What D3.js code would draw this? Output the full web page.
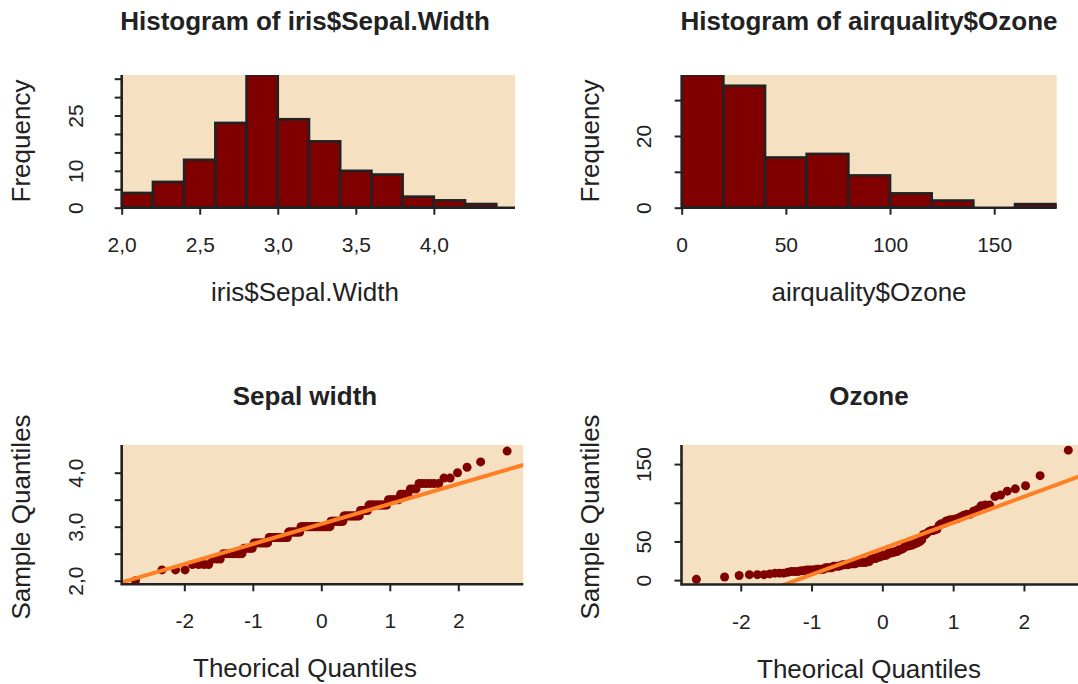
<!DOCTYPE html>
<html>
<head>
<meta charset="utf-8">
<script src="https://cdn.jsdelivr.net/npm/d3@7"></script>
<style>
  body { margin: 0; background: #fff; }
  svg { display: block; }
  text { font-family: "Liberation Sans", Arial, Helvetica, sans-serif; fill: #222; }
</style>
</head>
<body>
<div id="chart"></div>
<script>
// ---------------------------------------------------------------------------
// Data
// ---------------------------------------------------------------------------

// hist(iris$Sepal.Width)
const sepalBreaks = [2.0, 2.2, 2.4, 2.6, 2.8, 3.0, 3.2, 3.4, 3.6, 3.8, 4.0, 4.2, 4.4]
const sepalCounts = [4, 7, 13, 23, 36, 24, 18, 10, 9, 3, 2, 1]

// hist(airquality$Ozone)
const ozoneBreaks = [0, 20, 40, 60, 80, 100, 120, 140, 160, 180]
const ozoneCounts = [37, 34, 14, 15, 9, 4, 2, 0, 1]

// iris$Sepal.Width as distinct value / count
const sepalValues = [2.0, 2.2, 2.3, 2.4, 2.5, 2.6, 2.7, 2.8, 2.9, 3.0, 3.1, 3.2,
                     3.3, 3.4, 3.5, 3.6, 3.7, 3.8, 3.9, 4.0, 4.1, 4.2, 4.4]
const sepalValueCounts = [1, 3, 4, 3, 8, 5, 9, 14, 10, 26, 11, 13,
                          6, 12, 6, 4, 3, 6, 2, 1, 1, 1, 1]

// airquality$Ozone without NA
const ozoneValues = [41, 36, 12, 18, 28, 23, 19, 8, 7, 16, 11, 14, 18, 14, 34, 6, 30, 11, 1, 11,
                     4, 32, 23, 45, 115, 37, 29, 71, 39, 23, 21, 37, 20, 12, 13, 135, 49, 32, 64, 40,
                     77, 97, 97, 85, 10, 27, 7, 48, 35, 61, 79, 63, 16, 80, 108, 20, 52, 82, 50, 64,
                     59, 39, 9, 16, 78, 35, 66, 122, 89, 110, 44, 28, 65, 22, 59, 23, 31, 44, 21, 9,
                     45, 168, 73, 76, 118, 84, 85, 96, 78, 73, 91, 47, 32, 20, 23, 21, 24, 44, 21, 28,
                     9, 13, 46, 18, 13, 24, 16, 13, 23, 36, 7, 14, 30, 14, 18, 20]

// ticks and the labels R kept (the others were dropped for overlap)
const sepalXTicks = [2.0, 2.5, 3.0, 3.5, 4.0]
const sepalYTicks = [0, 5, 10, 15, 20, 25, 30, 35]
const sepalYLabels = [0, 10, 25]
const ozoneXTicks = [0, 50, 100, 150]
const ozoneYTicks = [0, 10, 20, 30]
const ozoneYLabels = [0, 20]
const qqXTicks = [-2, -1, 0, 1, 2]
const sepalQQYTicks = [2.0, 2.5, 3.0, 3.5, 4.0]
const sepalQQYLabels = [2.0, 3.0, 4.0]
const ozoneQQYTicks = [0, 50, 100, 150]
const ozoneQQYLabels = [0, 50, 150]

// ---------------------------------------------------------------------------
// Helpers
// ---------------------------------------------------------------------------
const BEIGE = "#F5E1C2"
const MAROON = "#800000"
const ORANGE = "#FF7F24"
const INK = "#222"

const locale = d3.formatLocale({ decimal: ",", thousands: ".", grouping: [3], currency: ["", ""], minus: "-" })
const fmtComma = locale.format(".1f")
const fmtInt = locale.format("d")

// inverse normal CDF (Acklam)
function qnorm(p) {
    const a = [-3.969683028665376e+01, 2.209460984245205e+02, -2.759285104469687e+02,
               1.383577518672690e+02, -3.066479806614716e+01, 2.506628277459239e+00]
    const b = [-5.447609879822406e+01, 1.615858368580409e+02, -1.556989798598866e+02,
               6.680131188771972e+01, -1.328068155288572e+01]
    const c = [-7.784894002430293e-03, -3.223964580411365e-01, -2.400758277161838e+00,
               -2.549732539343734e+00, 4.374664141464968e+00, 2.938163982698783e+00]
    const d = [7.784695709041462e-03, 3.224671290700398e-01, 2.445134137142996e+00,
               3.754408661907416e+00]
    const pl = 0.02425
    let q, r
    if (p < pl || p > 1 - pl) {
        q = Math.sqrt(-2 * Math.log(p < pl ? p : 1 - p))
        const v = (((((c[0]*q + c[1])*q + c[2])*q + c[3])*q + c[4])*q + c[5]) /
                  ((((d[0]*q + d[1])*q + d[2])*q + d[3])*q + 1)
        return p < pl ? v : -v
    }
    q = p - 0.5
    r = q * q
    return (((((a[0]*r + a[1])*r + a[2])*r + a[3])*r + a[4])*r + a[5]) * q /
           (((((b[0]*r + b[1])*r + b[2])*r + b[3])*r + b[4])*r + 1)
}

// qqnorm points + qqline coefficients
function qqData(values) {
    const sorted = values.slice().sort(d3.ascending)
    const n = sorted.length
    const a = n <= 10 ? 3 / 8 : 0.5
    const pts = sorted.map((v, i) => ({ x: qnorm((i + 1 - a) / (n + 1 - 2 * a)), y: v }))
    const y1 = d3.quantileSorted(sorted, 0.25), y2 = d3.quantileSorted(sorted, 0.75)
    const x1 = qnorm(0.25), x2 = qnorm(0.75)
    const slope = (y2 - y1) / (x2 - x1)
    return { pts, slope, intercept: y1 - slope * x1 }
}

const svg = d3.select("#chart").append("svg")
    .attr("width", 1078)
    .attr("height", 684)

// one panel: background, clip, L frame, ticks, labels
function makePanel(o) {
    const x = d3.scaleLinear().domain(o.xDomain).range([o.left, o.right])
    const y = d3.scaleLinear().domain(o.yDomain).range([o.bottom, o.top])
    const g = svg.append("g")

    svg.append("clipPath").attr("id", "clip-" + o.id)
        .append("rect")
        .attr("x", o.left).attr("y", o.top)
        .attr("width", o.right - o.left).attr("height", o.bottom - o.top)

    g.append("rect")
        .attr("x", o.left).attr("y", o.top)
        .attr("width", o.right - o.left).attr("height", o.bottom - o.top)
        .attr("fill", BEIGE)

    const plot = g.append("g").attr("clip-path", "url(#clip-" + o.id + ")")

    // x axis ticks
    const xAxis = g.append("g")
        .attr("transform", "translate(0," + o.bottom + ")")
        .call(d3.axisBottom(x).tickValues(o.xTicks).tickSize(7).tickFormat(o.xFormat))
    xAxis.select(".domain").remove()
    xAxis.selectAll("line").attr("stroke", INK).attr("stroke-width", 2)
    xAxis.selectAll("text")
        .attr("y", 44).attr("dy", null)
        .style("font-size", "21px")

    // y axis ticks, labels rotated like R (las = 0)
    const yAxis = g.append("g")
        .attr("transform", "translate(" + o.left + ",0)")
        .call(d3.axisLeft(y).tickValues(o.yTicks).tickSize(7)
            .tickFormat(v => o.yLabels.includes(v) ? o.yFormat(v) : ""))
    yAxis.select(".domain").remove()
    yAxis.selectAll("line").attr("stroke", INK).attr("stroke-width", 2)
    yAxis.selectAll("text")
        .attr("x", null).attr("dy", null)
        .attr("text-anchor", "middle")
        .attr("transform", "translate(" + (o.yTickX - o.left) + ",0) rotate(-90)")
        .style("font-size", "21px")

    // titles
    g.append("text")
        .attr("x", o.center).attr("y", o.titleY)
        .attr("text-anchor", "middle")
        .style("font-size", "26px").style("font-weight", "bold")
        .text(o.title)
    g.append("text")
        .attr("x", o.center).attr("y", o.bottom + 93)
        .attr("text-anchor", "middle")
        .style("font-size", "26px")
        .text(o.xLabel)
    g.append("text")
        .attr("transform", "translate(" + o.yLabX + "," + o.yLabY + ") rotate(-90)")
        .attr("text-anchor", "middle")
        .style("font-size", "26px")
        .text(o.yLabel)

    return { g, plot, x, y, frame: () => {
        // L-shaped box (bty = "l")
        g.append("path")
            .attr("d", "M" + o.left + "," + o.top + "V" + o.bottom + "H" + o.right)
            .attr("fill", "none").attr("stroke", INK).attr("stroke-width", 2.6)
    } }
}

function drawHist(p, breaks, counts) {
    const bins = counts.map((c, i) => ({ x0: breaks[i], x1: breaks[i + 1], n: c }))
    p.plot.selectAll(".bar")
        .data(bins)
        .enter()
        .append("rect")
            .attr("class", "bar")
            .attr("x", d => p.x(d.x0))
            .attr("width", d => p.x(d.x1) - p.x(d.x0))
            .attr("y", d => p.y(d.n))
            .attr("height", d => p.y(0) - p.y(d.n))
            .attr("fill", MAROON)
            .attr("stroke", INK)
            .attr("stroke-width", 2.6)
    p.frame()
}

function drawQQ(p, values) {
    const qq = qqData(values)
    const xd = p.x.domain()
    p.plot.selectAll(".pt")
        .data(qq.pts)
        .enter()
        .append("circle")
            .attr("class", "pt")
            .attr("cx", d => p.x(d.x))
            .attr("cy", d => p.y(d.y))
            .attr("r", 4.5)
            .attr("fill", MAROON)
    // qqline, drawn after the points
    p.plot.append("line")
        .attr("x1", p.x(xd[0])).attr("y1", p.y(qq.intercept + qq.slope * xd[0]))
        .attr("x2", p.x(xd[1])).attr("y2", p.y(qq.intercept + qq.slope * xd[1]))
        .attr("stroke", ORANGE).attr("stroke-width", 4)
    p.frame()
}

// ---------------------------------------------------------------------------
// Main
// ---------------------------------------------------------------------------

const p1 = makePanel({
    id: "p1", left: 121.7, right: 515, top: 75, bottom: 207.7, center: 305, titleY: 29.5,
    yTickX: 83, yLabX: 30, yLabY: 141,
    xDomain: [2.0, 4.52], yDomain: [0, 36],
    xTicks: sepalXTicks, yTicks: sepalYTicks, yLabels: sepalYLabels,
    xFormat: fmtComma, yFormat: fmtInt,
    title: "Histogram of iris$Sepal.Width", xLabel: "iris$Sepal.Width", yLabel: "Frequency"
})
drawHist(p1, sepalBreaks, sepalCounts)

const p2 = makePanel({
    id: "p2", left: 681.7, right: 1056.7, top: 75, bottom: 207.7, center: 869, titleY: 29.5,
    yTickX: 651, yLabX: 599, yLabY: 141,
    xDomain: [0, 180], yDomain: [0, 37],
    xTicks: ozoneXTicks, yTicks: ozoneYTicks, yLabels: ozoneYLabels,
    xFormat: fmtInt, yFormat: fmtInt,
    title: "Histogram of airquality$Ozone", xLabel: "airquality$Ozone", yLabel: "Frequency"
})
drawHist(p2, ozoneBreaks, ozoneCounts)

const sepalAll = sepalValues.flatMap((v, i) => d3.range(sepalValueCounts[i]).map(() => v))

const p3 = makePanel({
    id: "p3", left: 121.7, right: 523.3, top: 445, bottom: 584.3, center: 305, titleY: 404.5,
    yTickX: 83, yLabX: 30, yLabY: 517,
    xDomain: [-2.914, 2.949], yDomain: [1.933, 4.513],
    xTicks: qqXTicks, yTicks: sepalQQYTicks, yLabels: sepalQQYLabels,
    xFormat: fmtInt, yFormat: fmtComma,
    title: "Sepal width", xLabel: "Theorical Quantiles", yLabel: "Sample Quantiles"
})
drawQQ(p3, sepalAll)

const p4 = makePanel({
    id: "p4", left: 681.5, right: 1083.2, top: 445, bottom: 584.5, center: 869, titleY: 404.5,
    yTickX: 651, yLabX: 599, yLabY: 517,
    xDomain: [-2.837, 2.837], yDomain: [-5.68, 174.68],
    xTicks: qqXTicks, yTicks: ozoneQQYTicks, yLabels: ozoneQQYLabels,
    xFormat: fmtInt, yFormat: fmtInt,
    title: "Ozone", xLabel: "Theorical Quantiles", yLabel: "Sample Quantiles"
})
drawQQ(p4, ozoneValues)
</script>
</body>
</html>
